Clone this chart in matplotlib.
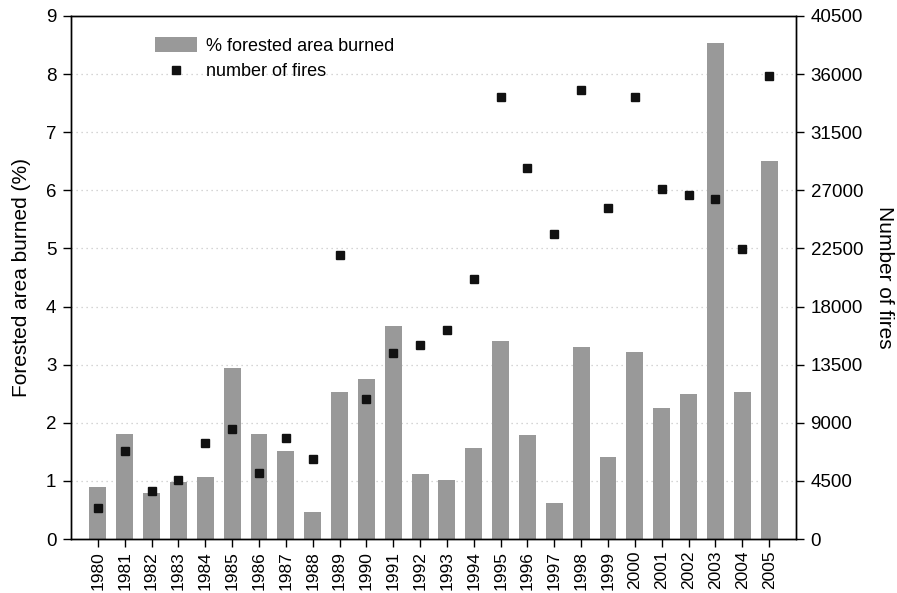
import matplotlib.pyplot as plt
import numpy as np

plt.rcParams['font.family'] = ['Liberation Sans', 'DejaVu Sans']

years = [str(y) for y in range(1980, 2006)]
area_burned = [0.90, 1.81, 0.79, 0.98, 1.07, 2.95, 1.81, 1.52, 0.47, 2.53,
               2.76, 3.67, 1.12, 1.02, 1.57, 3.41, 1.79, 0.62, 3.31, 1.41,
               3.21, 2.26, 2.50, 8.53, 2.53, 6.50]
n_fires = [2400, 6830, 3720, 4580, 7450, 8530, 5120, 7840, 6210, 21960,
           10860, 14430, 15050, 16220, 20100, 34220, 28710, 23590, 34760, 25600,
           34220, 27080, 26620, 26300, 22430, 35850]

x = np.arange(len(years))

fig = plt.figure(figsize=(8.97, 5.93), dpi=100)
ax = fig.add_axes([71 / 897, 54 / 593, 725 / 897, 523 / 593])
ax2 = ax.twinx()

for v in range(1, 9):
    ax.axhline(v, color='#c8c8c8', linestyle=(0, (1, 3)), linewidth=0.9, zorder=0)

bars = ax.bar(x, area_burned, width=0.63, color='#999999', zorder=2,
              label='% forested area burned')
pts, = ax2.plot(x, n_fires, linestyle='none', marker='s', markersize=6,
                color='#111111', label='number of fires', zorder=3)

ax.set_xlim(-1, len(years))
ax.set_ylim(0, 9)
ax2.set_ylim(0, 40500)
ax.set_yticks(range(0, 10))
ax2.set_yticks(range(0, 40501, 4500))
ax.set_xticks(x)
ax.set_xticklabels(years, rotation=90)

for a in (ax, ax2):
    a.tick_params(direction='out', length=6, width=1, labelsize=13.5, pad=4.5)
    for s in a.spines.values():
        s.set_linewidth(1)
ax.tick_params(axis='x', labelsize=12.5, length=5.5, pad=3)

ax.set_ylabel('Forested area burned (%)', fontsize=15, labelpad=11)
ax2.set_ylabel('Number of fires', fontsize=15, rotation=270, labelpad=22)

ax.set_zorder(ax2.get_zorder() - 1)
ax.patch.set_visible(True)
ax2.patch.set_visible(False)

ax2.legend([bars, pts], ['% forested area burned', 'number of fires'],
           loc='upper left', bbox_to_anchor=(0.116, 0.96), frameon=False,
           borderpad=0, borderaxespad=0,
           fontsize=13, handlelength=2.3, handleheight=0.9,
           handletextpad=0.5, labelspacing=0.45)

plt.savefig('out.png', dpi=100)
